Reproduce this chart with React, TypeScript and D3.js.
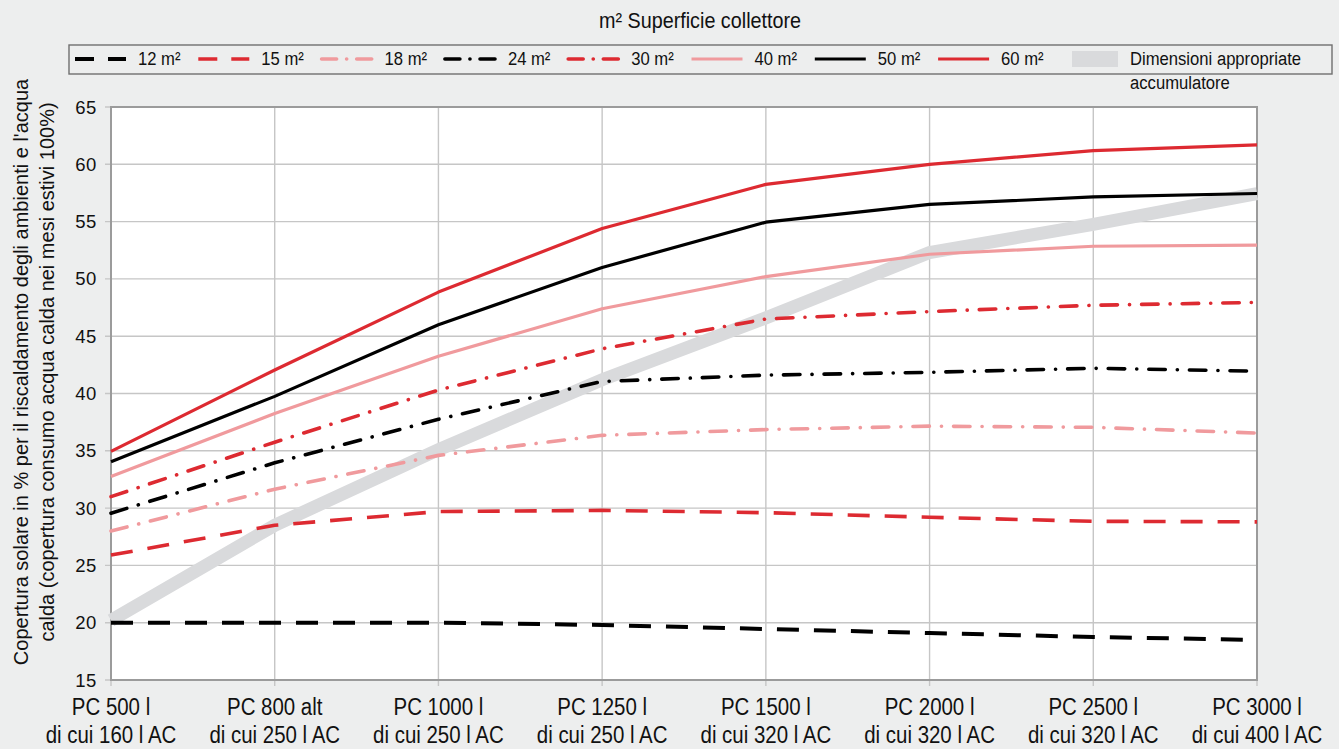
import React from "react";
import * as d3 from "d3";

const catLine1 = ["PC 500 l", "PC 800 alt", "PC 1000 l", "PC 1250 l", "PC 1500 l", "PC 2000 l", "PC 2500 l", "PC 3000 l"];
const catLine2 = ["di cui 160 l AC", "di cui 250 l AC", "di cui 250 l AC", "di cui 250 l AC", "di cui 320 l AC", "di cui 320 l AC", "di cui 320 l AC", "di cui 400 l AC"];
const yTicks = [15, 20, 25, 30, 35, 40, 45, 50, 55, 60, 65];

const s12 = [20.0, 20.0, 20.0, 19.8, 19.45, 19.1, 18.75, 18.5];
const s15 = [25.9, 28.5, 29.7, 29.8, 29.6, 29.2, 28.85, 28.8];
const s18 = [28.0, 31.65, 34.6, 36.35, 36.85, 37.15, 37.05, 36.55];
const s24 = [29.55, 33.95, 37.75, 41.05, 41.6, 41.85, 42.2, 41.95];
const s30 = [31.0, 35.75, 40.3, 43.9, 46.5, 47.15, 47.7, 47.95];
const s40 = [32.75, 38.25, 43.25, 47.4, 50.2, 52.15, 52.85, 52.95];
const s50 = [34.05, 39.75, 46.0, 51.0, 54.95, 56.5, 57.15, 57.45];
const s60 = [34.95, 42.05, 48.85, 54.4, 58.25, 60.0, 61.2, 61.7];
const bandValues = [20.2, 28.5, 35.1, 41.2, 46.6, 52.3, 54.75, 57.45];

const seriesNames = ["12 m²", "15 m²", "18 m²", "24 m²", "30 m²", "40 m²", "50 m²", "60 m²"];
const seriesData = [s12, s15, s18, s24, s30, s40, s50, s60];

const title = "m² Superficie collettore";
const bandLabel1 = "Dimensioni appropriate";
const bandLabel2 = "accumulatore";
const yTitle1 = "Copertura solare in % per il riscaldamento degli ambienti e l'acqua";
const yTitle2 = "calda (copertura consumo acqua calda nei mesi estivi 100%)";

const RED = "#dd2a31";
const PINK = "#f09a9d";
const BLACK = "#000000";
const BAND = "#d9dadc";
const BG = "#edeeee";
const GRID = "#c6c6c6";
const FRAME = "#9b9b9b";

const DASH = "22 15";
const DASHDOT = "16.5 12 0.1 12";

const styles = [
  { color: BLACK, dash: DASH, width: 4, cap: "butt" },
  { color: RED, dash: DASH, width: 3.6, cap: "butt" },
  { color: PINK, dash: DASHDOT, width: 3.6, cap: "round" },
  { color: BLACK, dash: DASHDOT, width: 3.6, cap: "round" },
  { color: RED, dash: DASHDOT, width: 3.6, cap: "round" },
  { color: PINK, dash: null, width: 3.2, cap: "butt" },
  { color: BLACK, dash: null, width: 3.2, cap: "butt" },
  { color: RED, dash: null, width: 3.2, cap: "butt" },
];

const FONT = "'Liberation Sans', Arial, sans-serif";

function CondText(props: { x: number; y: number; size: number; sx: number; anchor?: string; children: any }) {
  const { x, y, size, sx, anchor, children } = props;
  return (
    <g transform={`translate(${x},${y}) scale(${sx},1)`}>
      <text x={0} y={0} textAnchor={(anchor || "start") as any} fontFamily={FONT} fontSize={size} fill="#111">
        {children}
      </text>
    </g>
  );
}

export default function App() {
  const W = 1339;
  const H = 749;
  const left = 111, right = 1257, top = 107, bottom = 680;

  const x = d3.scalePoint<number>().domain(d3.range(catLine1.length)).range([left, right]);
  const y = d3.scaleLinear().domain([15, 65]).range([bottom, top]);

  const line = d3
    .line<number>()
    .x((_, i) => x(i) as number)
    .y((d) => y(d));

  const legendStart = 75;
  const legendStep = 123.3;
  const legendY = 59;

  return (
    <svg width={W} height={H} style={{ position: "absolute", left: 0, top: 0, display: "block" }}>
      <rect x={0} y={0} width={W} height={H} fill={BG} />
      {/* title */}
      <CondText x={700} y={28} size={21.5} sx={0.92} anchor="middle">
        {title}
      </CondText>
      {/* legend */}
      <rect x={69} y={45} width={1263} height={29} fill="none" stroke="#6f6f6f" strokeWidth={1.4} />
      {seriesNames.map((name, i) => {
        const sx = legendStart + i * legendStep;
        const st = styles[i];
        return (
          <g key={name}>
            <line
              x1={sx}
              x2={sx + 51}
              y1={legendY}
              y2={legendY}
              stroke={st.color}
              strokeWidth={st.width}
              strokeDasharray={st.dash === DASH ? "19 14" : st.dash === DASHDOT ? "15 10 0.1 10" : undefined}
              strokeLinecap={st.cap as any}
            />
            <CondText x={sx + 63} y={legendY + 6} size={18.5} sx={0.9}>
              {name}
            </CondText>
          </g>
        );
      })}
      <rect x={1072} y={51} width={46} height={16} fill={BAND} />
      <CondText x={1130} y={65} size={18.5} sx={0.9}>
        {bandLabel1}
      </CondText>
      <CondText x={1130} y={89} size={18.5} sx={0.9}>
        {bandLabel2}
      </CondText>

      {/* plot */}
      <rect x={left} y={top} width={right - left} height={bottom - top} fill="#ffffff" />
      {yTicks.map((t) => (
        <line key={"h" + t} x1={left - 6} x2={right} y1={y(t)} y2={y(t)} stroke={GRID} strokeWidth={1.4} />
      ))}
      {catLine1.map((_, i) => (
        <line key={"v" + i} x1={x(i)} x2={x(i)} y1={top} y2={bottom + 6} stroke={GRID} strokeWidth={1.4} />
      ))}
      <rect x={left} y={top} width={right - left} height={bottom - top} fill="none" stroke={FRAME} strokeWidth={2} />

      {/* band */}
      <path d={line(bandValues) || ""} fill="none" stroke={BAND} strokeWidth={13} strokeLinejoin="miter" />

      {/* series */}
      {seriesData.map((s, i) => {
        const st = styles[i];
        return (
          <path
            key={seriesNames[i]}
            d={line(s) || ""}
            fill="none"
            stroke={st.color}
            strokeWidth={st.width}
            strokeDasharray={st.dash || undefined}
            strokeLinecap={st.cap as any}
            strokeLinejoin="round"
          />
        );
      })}

      {/* y tick labels */}
      {yTicks.map((t) => (
        <text key={"yt" + t} x={97} y={y(t) + 6.5} textAnchor="end" fontFamily={FONT} fontSize={18.5} fill="#111" letterSpacing={0.6}>
          {t}
        </text>
      ))}

      {/* x labels */}
      {catLine1.map((c, i) => (
        <g key={"xl" + i}>
          <CondText x={x(i) as number} y={715} size={23.5} sx={0.87} anchor="middle">
            {c}
          </CondText>
          <CondText x={x(i) as number} y={743} size={23.5} sx={0.87} anchor="middle">
            {catLine2[i]}
          </CondText>
        </g>
      ))}

      {/* y title */}
      <g transform={`translate(28, 372) rotate(-90)`}>
        <text x={0} y={0} textAnchor="middle" fontFamily={FONT} fontSize={20} fill="#111">
          {yTitle1}
        </text>
      </g>
      <g transform={`translate(54, 372) rotate(-90)`}>
        <text x={0} y={0} textAnchor="middle" fontFamily={FONT} fontSize={20} fill="#111">
          {yTitle2}
        </text>
      </g>
    </svg>
  );
}
